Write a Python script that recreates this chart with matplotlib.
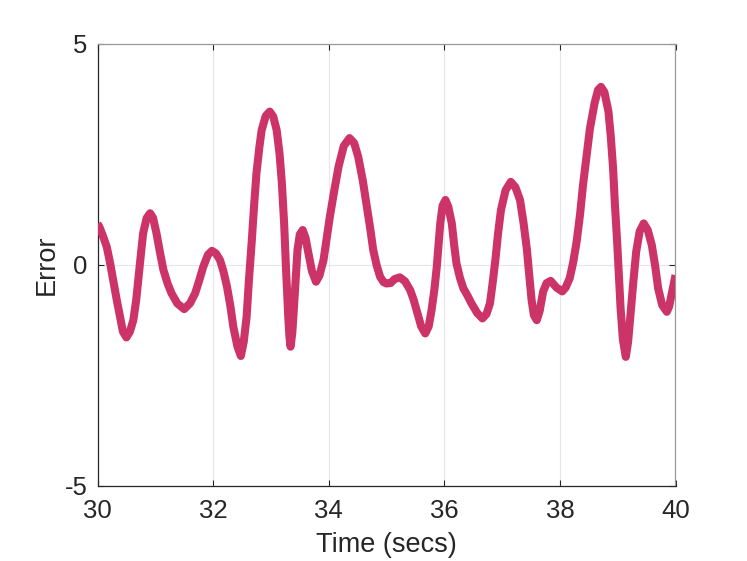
import matplotlib
matplotlib.use("Agg")
import matplotlib.pyplot as plt

# Data
time_s = [30.00, 30.03, 30.09, 30.16, 30.22, 30.27, 30.33, 30.39, 30.44, 30.50,
          30.56, 30.62, 30.67, 30.71, 30.75, 30.79, 30.85, 30.91, 30.96, 31.02,
          31.08, 31.14, 31.21, 31.28, 31.38, 31.50, 31.60, 31.69, 31.76, 31.83,
          31.91, 31.98, 32.05, 32.12, 32.18, 32.24, 32.30, 32.35, 32.42, 32.48,
          32.53, 32.58, 32.62, 32.67, 32.71, 32.75, 32.80, 32.84, 32.91, 32.98,
          33.04, 33.10, 33.15, 33.19, 33.23, 33.26, 33.28, 33.30, 33.32, 33.34,
          33.37, 33.40, 33.43, 33.46, 33.50, 33.55, 33.60, 33.65, 33.71, 33.78,
          33.84, 33.91, 33.96, 34.02, 34.10, 34.17, 34.26, 34.36, 34.44, 34.51,
          34.59, 34.66, 34.72, 34.77, 34.83, 34.89, 34.95, 35.00, 35.07, 35.14,
          35.23, 35.32, 35.41, 35.47, 35.52, 35.60, 35.67, 35.73, 35.78, 35.83,
          35.87, 35.90, 35.93, 35.97, 36.02, 36.07, 36.13, 36.17, 36.21, 36.27,
          36.33, 36.40, 36.47, 36.57, 36.66, 36.73, 36.79, 36.84, 36.89, 36.93,
          36.98, 37.06, 37.15, 37.23, 37.31, 37.37, 37.43, 37.47, 37.51, 37.55,
          37.60, 37.65, 37.71, 37.77, 37.84, 37.94, 38.04, 38.10, 38.17, 38.23,
          38.29, 38.35, 38.40, 38.46, 38.52, 38.60, 38.66, 38.71, 38.77, 38.84,
          38.88, 38.92, 38.95, 38.99, 39.02, 39.05, 39.09, 39.14, 39.18, 39.22,
          39.27, 39.32, 39.38, 39.45, 39.52, 39.59, 39.65, 39.70, 39.77, 39.85,
          39.89, 39.93, 40.00]
error = [0.92, 0.86, 0.66, 0.40, 0.02, -0.35, -0.78, -1.18, -1.52, -1.65,
         -1.52, -1.26, -0.80, -0.28, 0.22, 0.71, 1.05, 1.16, 1.06, 0.71,
         0.28, -0.12, -0.42, -0.65, -0.88, -1.01, -0.88, -0.65, -0.36, -0.05,
         0.22, 0.31, 0.25, 0.10, -0.16, -0.50, -0.95, -1.41, -1.85, -2.07,
         -1.75, -1.18, -0.35, 0.55, 1.35, 2.06, 2.65, 3.04, 3.36, 3.46,
         3.35, 3.04, 2.50, 1.84, 0.90, -0.05, -0.60, -1.18, -1.62, -1.86,
         -1.55, -0.95, -0.30, 0.33, 0.68, 0.78, 0.60, 0.25, -0.15, -0.39,
         -0.25, 0.10, 0.55, 1.08, 1.70, 2.21, 2.68, 2.86, 2.75, 2.44,
         1.90, 1.31, 0.80, 0.33, -0.02, -0.28, -0.40, -0.43, -0.42, -0.33,
         -0.29, -0.38, -0.58, -0.80, -1.03, -1.40, -1.56, -1.40, -1.03, -0.55,
         -0.05, 0.45, 0.93, 1.33, 1.46, 1.30, 0.93, 0.45, 0.03, -0.30,
         -0.54, -0.70, -0.88, -1.10, -1.22, -1.12, -0.88, -0.38, 0.18, 0.70,
         1.23, 1.68, 1.87, 1.75, 1.46, 0.95, 0.33, -0.25, -0.80, -1.15,
         -1.26, -1.05, -0.61, -0.42, -0.37, -0.52, -0.61, -0.52, -0.31, 0.05,
         0.52, 1.15, 1.80, 2.45, 3.08, 3.65, 3.95, 4.02, 3.90, 3.46,
         2.90, 2.18, 1.40, 0.52, -0.25, -0.99, -1.70, -2.09, -1.75, -1.14,
         -0.40, 0.29, 0.75, 0.93, 0.78, 0.44, -0.05, -0.54, -0.92, -1.07,
         -0.95, -0.69, -0.24]

x_ticks = [30, 32, 34, 36, 38, 40]
y_ticks = [-5, 0, 5]

plt.rcParams['font.family'] = ['Liberation Sans', 'DejaVu Sans']

fig = plt.figure(figsize=(7.47, 5.61), dpi=100)
ax = fig.add_axes([97.5 / 747, 1 - 485.5 / 561, 578 / 747, 442 / 561])

ax.plot(time_s, error, color='#CC3366', linewidth=5.8, solid_joinstyle='round',
        solid_capstyle='butt', zorder=3)

ax.set_xlim(30, 40)
ax.set_ylim(-5, 5)
ax.set_xticks(x_ticks)
ax.set_yticks(y_ticks)
ax.set_xticklabels([str(t) for t in x_ticks])
ax.set_yticklabels([str(t) for t in y_ticks])

ax.grid(True, color='#e6e6e6', linewidth=0.8, zorder=0)
ax.set_axisbelow(True)

ax.tick_params(axis='both', direction='in', length=4, width=0.8, colors='#262626',
               labelsize=18.5, top=True, right=True)
ax.tick_params(axis='x', pad=10)
ax.tick_params(axis='y', pad=7)
for s in ['left', 'bottom']:
    ax.spines[s].set_color('#262626')
    ax.spines[s].set_linewidth(0.9)
for s in ['top', 'right']:
    ax.spines[s].set_color('#999999')
    ax.spines[s].set_linewidth(0.9)

ax.set_xlabel('Time (secs)', fontsize=19.5, color='#262626', labelpad=6)
ax.set_ylabel('Error', fontsize=19.5, color='#262626', labelpad=4)

fig.savefig('out.png', dpi=100, facecolor='white')
